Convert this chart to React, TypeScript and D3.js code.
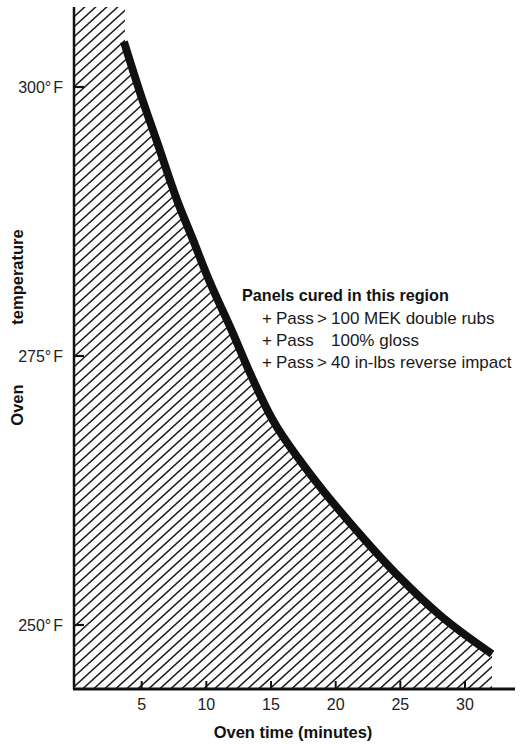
import React from "react";
import * as d3 from "d3";

const cureTimes = [3.63, 4.87, 6.19, 7.73, 8.97, 10.05, 12.06, 13.38, 15.16, 17.24, 19.02, 21.11, 24.97, 28.07, 32.09];
const cureTemps = [304.2, 299.5, 294.9, 289.5, 285.8, 282.5, 277.1, 273.4, 269.0, 265.3, 262.5, 259.5, 254.4, 250.9, 247.3];
const xTicks = [5, 10, 15, 20, 25, 30];
const yTicks = [300, 275, 250];
const yTickLabels = ["300°", "275°", "250°"];
const noteTitle = "Panels cured in this region";
const noteLines = [
  { a: "Pass", b: ">", c: "100 MEK double rubs" },
  { a: "Pass", b: "", c: "100% gloss" },
  { a: "Pass", b: ">", c: "40 in-lbs reverse impact" },
];

const W = 523;
const H = 744;
const FONT = "'Liberation Sans', Arial, Helvetica, sans-serif";
const INK = "#111";

export default function App() {
  const x = d3.scaleLinear().domain([0, 30]).range([77, 465]);
  const y = d3.scaleLinear().domain([250, 300]).range([625, 87]);
  const axisX = 74;
  const axisY = 689;
  const topY = 7;
  const rightX = 515;

  const pts: [number, number][] = cureTimes.map((t, i) => [t, cureTemps[i]]);
  const line = d3
    .line<[number, number]>()
    .x((d) => x(d[0]))
    .y((d) => y(d[1]))
    .curve(d3.curveMonotoneX);
  const area = d3
    .area<[number, number]>()
    .x((d) => x(d[0]))
    .y0(axisY)
    .y1((d) => y(d[1]))
    .curve(d3.curveMonotoneX);

  const slope = 10 / 11;
  const spacing = 11;
  const hatch: string[] = [];
  for (let c = axisX - 800; c < rightX + 50; c += spacing) {
    const y1 = axisY + 5;
    const y2 = topY - 5;
    const x2 = c + (y1 - y2) / slope;
    hatch.push(`M${c},${y1}L${x2},${y2}`);
  }

  return (
    <svg
      width={W}
      height={H}
      style={{ position: "absolute", left: 0, top: 0, background: "#fff" }}
      fontFamily={FONT}
    >
      <defs>
        <clipPath id="cureClip">
          <rect x={axisX} y={topY} width={x(cureTimes[0]) - axisX + 1} height={axisY - topY} />
          <path d={area(pts) || ""} />
        </clipPath>
      </defs>
      <rect width={W} height={H} fill="#fff" />
      <g clipPath="url(#cureClip)">
        {hatch.map((d, i) => (
          <path key={i} d={d} stroke="#1a1a1a" strokeWidth={1.5} fill="none" />
        ))}
      </g>
      <path d={line(pts) || ""} stroke={INK} strokeWidth={8} fill="none" strokeLinecap="butt" />
      <line x1={axisX} y1={topY} x2={axisX} y2={axisY} stroke={INK} strokeWidth={2.5} />
      <line x1={axisX - 1} y1={axisY} x2={rightX} y2={axisY} stroke={INK} strokeWidth={3} />
      {yTicks.map((t, i) => (
        <g key={t}>
          <line x1={axisX} x2={axisX + 10} y1={y(t)} y2={y(t)} stroke={INK} strokeWidth={2.2} />
          <text x={63} y={y(t) + 6} fontSize={16} textAnchor="end" fill="#222">
            {yTickLabels[i]}
            <tspan dx={2}>F</tspan>
          </text>
        </g>
      ))}
      {xTicks.map((t) => (
        <g key={t}>
          <line x1={x(t)} x2={x(t)} y1={axisY} y2={axisY - 8} stroke={INK} strokeWidth={2} />
          <text x={x(t)} y={710} fontSize={16} textAnchor="middle" fill="#222">
            {t}
          </text>
        </g>
      ))}
      <text x={293} y={738} fontSize={16.5} fontWeight="bold" textAnchor="middle" fill={INK}>
        Oven time (minutes)
      </text>
      <text transform={`translate(23,405) rotate(-90)`} fontSize={16.5} fontWeight="bold" textAnchor="middle" fill={INK}>
        Oven
      </text>
      <text transform={`translate(23,277) rotate(-90)`} fontSize={16.5} fontWeight="bold" textAnchor="middle" fill={INK}>
        temperature
      </text>
      <text x={242} y={301} fontSize={16.2} fontWeight="bold" fill={INK}>
        {noteTitle}
      </text>
      {noteLines.map((l, i) => (
        <text key={i} y={324 + i * 22} fontSize={17} fill="#1a1a1a">
          <tspan x={262}>+</tspan>
          <tspan x={276}>{l.a}</tspan>
          {l.b ? <tspan x={317}>{l.b}</tspan> : null}
          <tspan x={331}>{l.c}</tspan>
        </text>
      ))}
    </svg>
  );
}
